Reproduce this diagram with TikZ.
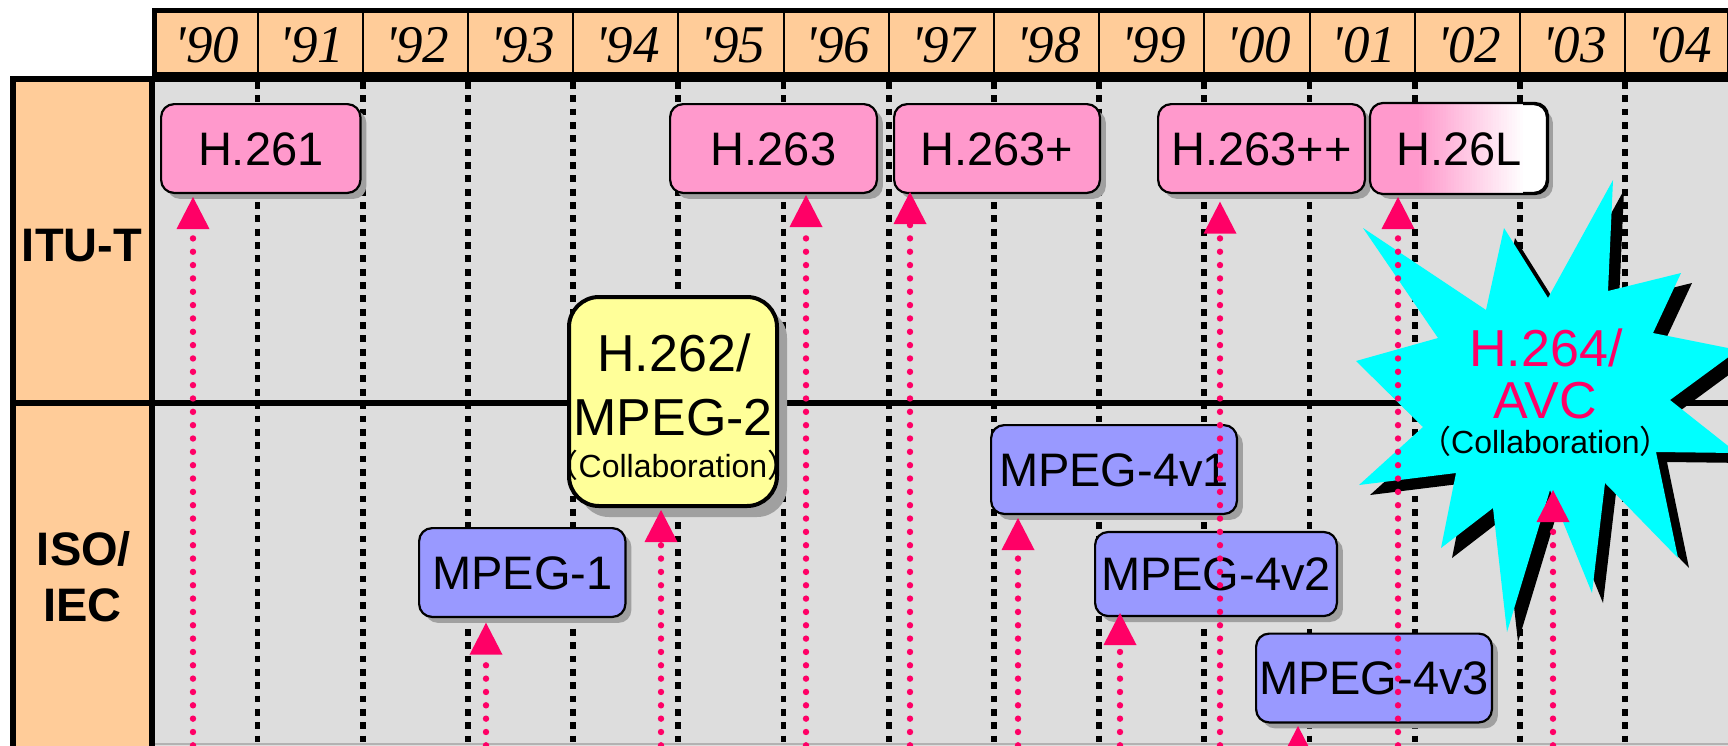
\documentclass[tikz,border=0pt]{standalone}
\usepackage{fontspec}
\setmainfont{Liberation Sans}
\newfontfamily\yrfont{Liberation Serif}
\newfontfamily\cjkfont{Noto Sans CJK JP}
\usetikzlibrary{arrows.meta,shadows}
\definecolor{peach}{HTML}{FFCC99}
\definecolor{bodygray}{HTML}{DDDDDD}
\definecolor{boxpink}{HTML}{FF99CC}
\definecolor{boxblue}{HTML}{9999FF}
\definecolor{boxyellow}{HTML}{FFFF99}
\definecolor{starcyan}{HTML}{00FFFF}
\definecolor{arrowred}{HTML}{FF0066}
\definecolor{shadowgray}{HTML}{A0A0A0}
\newcommand\collabtext{{\cjkfont （}Collaboration{\cjkfont ）}}
\tikzset{
 stdbox/.style={draw=black, line width=1.1pt, rounded corners=6.5pt, minimum height=44.4pt, inner sep=0pt, text height=16.8pt, text depth=0pt, font=\fontsize{23.5}{28}\selectfont, drop shadow={shadow xshift=3pt, shadow yshift=-3pt, fill=shadowgray, opacity=1}},
 pinkbox/.style={stdbox, fill=boxpink},
 bluebox/.style={stdbox, fill=boxblue},
 boxtext/.style={inner sep=0pt, text height=16.8pt, text depth=0pt, font=\fontsize{23.5}{28}\selectfont},
 bigtext/.style={font=\fontsize{26}{30}\selectfont, inner sep=0pt, anchor=base},
 smalltext/.style={font=\fontsize{16}{19}\selectfont, inner sep=0pt, anchor=base},
 yeartext/.style={font=\yrfont\itshape\fontsize{26.5}{30}\selectfont, inner sep=0pt, anchor=base},
 sidetext/.style={font=\bfseries\fontsize{23.5}{28}\selectfont, inner sep=0pt, anchor=base},
 gridline/.style={line width=2.9pt, dash pattern=on 3.4pt off 3.27pt},
 devarrow/.style={draw=arrowred, line width=3.2pt, line cap=round, dash pattern=on 0pt off 6.67pt, -{Triangle[width=16.5pt,length=16pt,line width=0pt]}},
}
\begin{document}
\begin{tikzpicture}[x=0.5pt,y=-0.5pt]
\useasboundingbox (0,0) rectangle (1728,745);
\clip (0,0) rectangle (1728,745);
% body
\fill[bodygray] (152,77) rectangle (1740,770);
\foreach \k in {1,...,14}{
  \draw[gridline] ({152.3+105.2*\k},82) -- ({152.3+105.2*\k},770);
}
\draw[gray!60, line width=0.6pt] (155,744) -- (1740,744);
% left column
\draw[fill=peach, line width=3pt] (13,79) rectangle (152,790);
% header
\draw[fill=peach, line width=2.5pt] (154.5,10.5) rectangle (1729.5,74.5);
\foreach \k in {1,...,14}{
  \draw[line width=1pt] ({152.3+105.2*\k},10.5) -- ({152.3+105.2*\k},74.5);
}
\foreach \yy [count=\i from 0] in {90,91,92,93,94,95,96,97,98,99,00,01,02,03,04}{
  \node[yeartext] (yr\i) at ({152.3+105.2*\i+54.6},62.7) {\textquotesingle\yy};
}
\draw[line width=2.5pt] (152,79.5) -- (1740,79.5);
\draw[line width=2.75pt] (10,403) -- (1740,403);
% side labels
\node[sidetext] (itu) at (82,261.5) {ITU-T};
\node[sidetext] (iso) at (84,565) {ISO/};
\node[sidetext] (iec) at (82.5,621.7) {IEC};
% boxes
\node[pinkbox, minimum width=99.65pt] (h261) at (260.75,148.5) {H.261};
\node[pinkbox, minimum width=103.4pt] (h263) at (773.5,148.5) {H.263};
\node[pinkbox, minimum width=102.9pt] (h263p) at (997,148.5) {H.263+};
\node[pinkbox, minimum width=103.4pt] (h263pp) at (1261.5,148.5) {H.263++};
\node[stdbox, fill=white, minimum width=87.9pt] (h26l) at (1459,148.5) {};
\begin{scope}
  \clip[rounded corners=6.5pt] (h26l.south west) rectangle (h26l.north east);
  \fill[boxpink] (1360,90) rectangle (1417,210);
  \foreach \i [evaluate=\i as \p using {100-2.5*\i}] in {0,...,39}{
    \fill[boxpink!\p!white] ({1416.5+2.65*\i},90) rectangle ({1419.6+2.65*\i},210);
  }
\end{scope}
\draw[line width=1.1pt, rounded corners=6.5pt] (h26l.south west) rectangle (h26l.north east);
\node[boxtext] (h26lt) at (h26l.center) {H.26L};
\node[bluebox, minimum width=103.15pt] (mpeg1) at (522.25,572.5) {MPEG-1};
\node[bluebox, minimum width=122.9pt] (mp4a) at (1114,469.5) {MPEG-4v1};
\node[bluebox, minimum width=120.9pt, minimum height=42pt] (mp4b) at (1216,574) {MPEG-4v2};
\node[bluebox, minimum width=117.9pt] (mp4c) at (1374,678) {MPEG-4v3};
% yellow collaboration box
\node[draw=black, line width=2pt, rounded corners=15pt, fill=boxyellow, minimum width=104pt, minimum height=104.5pt, inner sep=0pt, drop shadow={shadow xshift=5pt, shadow yshift=-5.5pt, fill=shadowgray, opacity=1}] (h262) at (673,401.5) {};
\node[bigtext] (h262a) at (674,371.7) {H.262/};
\node[bigtext] (h262b) at (673,435) {MPEG-2};
\node[smalltext] (h262c) at (673,477.5) {\collabtext};
% star
\def\starpath{(1613,180) -- (1608,291) -- (1681,273) -- (1653,333) -- (1738,350) -- (1670,400) -- (1737,453) -- (1656,452) -- (1678,558) -- (1605,483) -- (1592,593) -- (1550,490) -- (1507,632) -- (1493,508) -- (1441,548) -- (1456,473) -- (1359,485) -- (1423,427) -- (1356,361) -- (1438,338) -- (1363,228) -- (1486,310) -- (1504,228) -- (1548,298) -- cycle}
\begin{scope}[shift={(11,10)}]
\fill[black] \starpath;
\end{scope}
\fill[starcyan] \starpath;
\node[bigtext, text=arrowred] (h264a) at (1546,366.7) {H.264/};
\node[bigtext, text=arrowred] (h264b) at (1545,418.3) {AVC};
\node[smalltext] (h264c) at (1545.5,453.3) {\collabtext};
% arrows
\foreach \n/\ax/\ty in {a1/193/197, a2/486/622.7, a3/661/510, a4/806/195, a5/910/192, a6/1018/518, a7/1120/613, a8/1220/201.7, a9/1298/726, a10/1398/197, a11/1553/490}{
  \coordinate (\n s) at (\ax,772);
  \coordinate (\n t) at (\ax,\ty);
  \draw[devarrow] (\n s) -- (\n t);
}
\end{tikzpicture}
\end{document}
